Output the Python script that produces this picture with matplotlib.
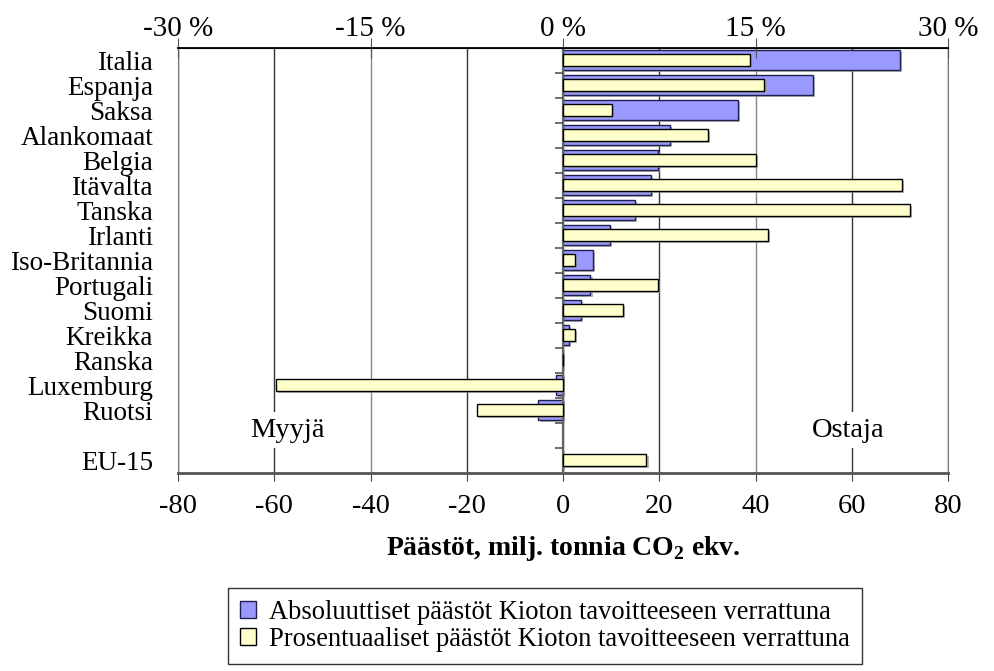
import matplotlib
matplotlib.use('Agg')
import numpy as np
import matplotlib.pyplot as plt
import matplotlib.patheffects as pe
from matplotlib.patches import Patch

plt.rcParams['font.family'] = 'Liberation Serif'
plt.rcParams['mathtext.fontset'] = 'custom'
plt.rcParams['mathtext.bf'] = 'Liberation Serif:bold'
plt.rcParams['mathtext.rm'] = 'Liberation Serif'

countries = ["Italia", "Espanja", "Saksa", "Alankomaat", "Belgia", "Itävalta",
             "Tanska", "Irlanti", "Iso-Britannia", "Portugali", "Suomi",
             "Kreikka", "Ranska", "Luxemburg", "Ruotsi", "EU-15"]
# absolute, milj. t CO2 ekv.
absolute = [70.0, 52.0, 36.3, 22.2, 19.8, 18.2, 15.0, 9.8, 6.2, 5.7, 3.7,
            1.3, 0.0, -1.5, -5.1, 0.0]
# percentage vs Kyoto target
percent = [14.6, 15.7, 3.8, 11.3, 15.0, 26.4, 27.0, 16.0, 0.9, 7.4, 4.7,
           0.9, 0.0, -22.4, -6.7, 6.5]

# empty slot between Ruotsi and EU-15
pos = list(range(15)) + [16]
nslots = 17

shadow = [pe.SimplePatchShadow(offset=(1.5, -1.5), shadow_rgbFace='#999999', alpha=0.7), pe.Normal()]

fig = plt.figure(figsize=(9.95, 6.71), dpi=100)
ax = fig.add_axes([178/995, 1-472.7/671, 770/995, 425/671])
ax.set_xlim(-80, 80)
ax.set_ylim(nslots-0.5, -0.5)
ax.set_axisbelow(True)
xt = np.arange(-80, 81, 20)
ax.set_xticks(xt)
ax.xaxis.grid(True, color='#333333', lw=1)
for t, v in zip(ax.xaxis.get_major_ticks(), xt):
    if abs(v) == 40:
        t.gridline.set_color('#888888')
bars = ax.barh(pos, absolute, height=0.79, color='#9999FF', edgecolor='#202050', lw=1, zorder=2)
for b in bars:
    b.set_path_effects(shadow)
ax.axvline(0, color='#666666', lw=1.6, zorder=3)
ax.hlines(np.arange(nslots-1)+0.5, -1.7, 0, color='#555555', lw=1.2, zorder=3)

ax.set_yticks(pos)
ax.set_yticklabels(countries, fontsize=19.5)
ax.tick_params(axis='y', length=0, pad=18)
ax.tick_params(axis='x', labelsize=20.5, direction='out', length=6, color='#444444', pad=9)
ax.set_xticklabels(['%d' % v for v in xt])
ax.spines['left'].set_color('#777777')
ax.spines['right'].set_color('#777777')
ax.spines['bottom'].set_color('#555555')
ax.spines['bottom'].set_linewidth(2)
ax.set_xlabel(r'Päästöt, milj. tonnia CO$_\mathbf{2}$ ekv.', fontsize=20,
              fontweight='bold', labelpad=11)

ax2 = ax.twiny()
ax2.set_xlim(-30, 30)
bars2 = ax2.barh(pos, percent, height=0.47, color='#FFFFCC', edgecolor='black', lw=1, zorder=2)
for b in bars2:
    b.set_path_effects(shadow)
ax2.set_xticks([-30, -15, 0, 15, 30])
ax2.set_xticklabels(['%d %%' % v for v in [-30, -15, 0, 15, 30]])
ax2.tick_params(axis='x', labelsize=21, direction='inout', length=14, color='#555555', pad=-3)
ax2.spines['top'].set_color('black')
ax2.spines['top'].set_linewidth(1.3)
for s in ['left', 'right', 'bottom']:
    ax2.spines[s].set_visible(False)

ax2.text(-21.5, 14.8, 'Myyjä', fontsize=20.5, ha='center', va='center',
         bbox=dict(facecolor='white', edgecolor='none', pad=4), zorder=5)
ax2.text(22.2, 14.8, 'Ostaja', fontsize=20.5, ha='center', va='center',
         bbox=dict(facecolor='white', edgecolor='none', pad=4), zorder=5)

handles = [Patch(facecolor='#9999FF', edgecolor='#202050'),
           Patch(facecolor='#FFFFCC', edgecolor='black')]
labels = ['Absoluuttiset päästöt Kioton tavoitteeseen verrattuna',
          'Prosentuaaliset päästöt Kioton tavoitteeseen verrattuna']
leg = fig.legend(handles, labels, loc='upper left', bbox_to_anchor=(228/995, 1-588/671),
                 fontsize=19.1, frameon=True, fancybox=False, edgecolor='black',
                 handlelength=0.6, handleheight=0.6, handletextpad=0.5,
                 borderaxespad=0, labelspacing=0.08, borderpad=0.45)
leg.get_frame().set_linewidth(1)

fig.savefig('out.png', dpi=100)
